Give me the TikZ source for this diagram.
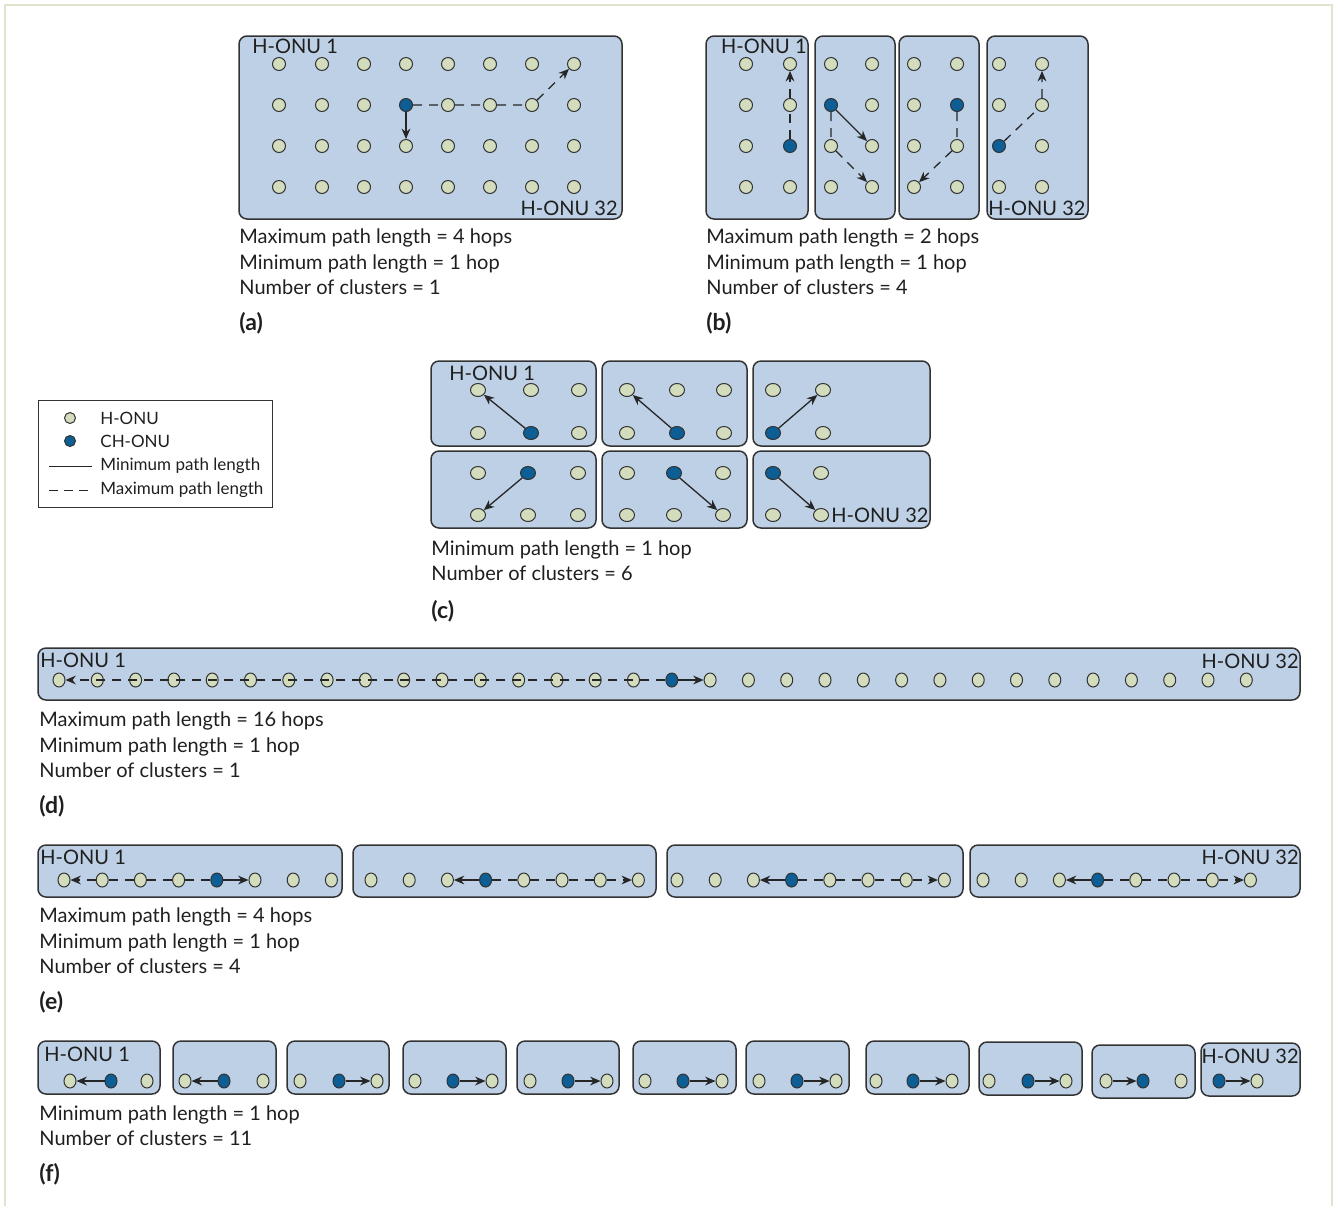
\documentclass[tikz,border=0pt]{standalone}
\usepackage{fontspec}
\setmainfont{Lato}
\usepackage{tikz}
\usetikzlibrary{arrows.meta}
\usetikzlibrary{shapes.geometric}
\definecolor{boxblue}{HTML}{BDD0E5}
\definecolor{onugreen}{HTML}{D3DCBD}
\definecolor{chblue}{HTML}{0C5E95}
\definecolor{rimgrey}{HTML}{333333}
\definecolor{framegreen}{HTML}{DDE5CF}
\tikzset{clus/.style={draw=rimgrey,line width=0.75pt,fill=boxblue,rounded corners=4pt},
         onu/.style={ellipse,draw=rimgrey,line width=0.5pt,fill=onugreen,inner sep=0pt,
                     minimum width=6.5pt,minimum height=6.5pt},
         ch/.style={onu,fill=chblue},
         minpath/.style={-{Stealth[length=5.2pt,width=4.4pt]},line width=0.65pt,draw=black!85},
         maxpath/.style={minpath,dash pattern=on 4.5pt off 3.5pt},
         lbl/.style={inner sep=0pt,font=\fontsize{10}{12}\selectfont,text=black!88},
         keytxt/.style={lbl,anchor=west,font=\fontsize{8.5}{10}\selectfont},
         captxt/.style={anchor=west,align=left,inner sep=0pt,
                     font=\fontsize{10}{12.8}\selectfont,text=black!88},
         tag/.style={anchor=west,inner sep=0pt,font=\fontsize{11.5}{13}\selectfont\bfseries,text=black!88}}

\begin{document}
\begin{tikzpicture}[x=0.5pt,y=-0.5pt]
\useasboundingbox (0,0) rectangle (1336,1206);
\draw[framegreen,line width=1pt] (5,1206) -- (5,5) -- (1332,5) -- (1332,1206);

% (a) one cluster
\draw[clus] (239,36) rectangle (622,219);
\foreach \xx [count=\i] in {279,322,364,406,448,490,532,574}
  \foreach \yy [count=\j] in {64,105,146,187}{
    \def\fillc{onugreen}\ifnum\i\j=42\relax\def\fillc{chblue}\fi
    \node[onu,fill=\fillc] (a\i\j) at (\xx,\yy) {};}
\draw[minpath] (a42) -- (a43);
\draw[maxpath] (a42) -- (a52) -- (a62) -- (a72) -- (a81);
\node[lbl,anchor=west] (la1) at (252,46) {H-ONU 1};
\node[lbl,anchor=east] (la32) at (618,208) {H-ONU 32};
\node[captxt] (ca) at (239,262) {Maximum path length = 4 hops\\Minimum path length = 1 hop\\Number of clusters = 1};
\node[tag] (ta) at (239,323) {(a)};

% (b) four clusters
\foreach \xl/\xr/\xa/\xb/\cij [count=\k] in {706/808/746/790/23,815/895/831/872/12,
                                            899/979/914/957/22,987/1088/999/1042/13}{
  \draw[clus] (\xl,36) rectangle (\xr,219);
  \foreach \xx [count=\i] in {\xa,\xb}
    \foreach \yy [count=\j] in {64,105,146,187}{
      \def\fillc{onugreen}\ifnum\i\j=\cij\relax\def\fillc{chblue}\fi
      \node[onu,fill=\fillc] (b\k\i\j) at (\xx,\yy) {};}}
\draw[maxpath] (b123) -- (b122) -- (b121);
\draw[minpath] (b212) -- (b223);
\draw[maxpath] (b212) -- (b213) -- (b224);
\draw[maxpath] (b322) -- (b323) -- (b314);
\draw[maxpath] (b413) -- (b422) -- (b421);
\node[lbl,anchor=east] (lb1) at (807,46) {H-ONU 1};
\node[lbl,anchor=west] (lb32) at (988,208) {H-ONU 32};
\node[captxt] (cb) at (706,262) {Maximum path length = 2 hops\\Minimum path length = 1 hop\\Number of clusters = 4};
\node[tag] (tb) at (706,323) {(b)};

% legend
\draw[rimgrey,line width=0.5pt] (38,400) rectangle (272,507);
\node[onu,minimum width=5.5pt,minimum height=5.5pt] (k1) at (70,418) {};
\node[ch,minimum width=5.5pt,minimum height=5.5pt] (k2) at (70,441) {};
\coordinate (k3a) at (49,466); \coordinate (k3b) at (92,466);
\coordinate (k4a) at (49,490); \coordinate (k4b) at (92,490);
\draw[black!85,line width=0.5pt] (k3a) -- (k3b);
\draw[black!85,line width=0.5pt,dash pattern=on 4.5pt off 3pt] (k4a) -- (k4b);
\node[keytxt] (kt1) at (100,418) {H-ONU};
\node[keytxt] (kt2) at (100,441) {CH-ONU};
\node[keytxt] (kt3) at (100,466) {Minimum path length};
\node[keytxt] (kt4) at (100,490) {Maximum path length};

% (c) six clusters
\begin{scope}[onu/.append style={minimum width=7.5pt,minimum height=6.5pt}]
\foreach \xl/\xr/\yt/\yb/\xs/\ya/\yc/\cij [count=\k] in {
    431/596/361/446/{478,531,579}/390/433/22,
    602/747/361/446/{627,677,724}/390/433/22,
    753/930/361/446/{773,823}/390/433/12,
    431/596/451/528/{478,528,578}/473/515/21,
    602/747/451/528/{627,674,723}/473/515/21,
    753/930/451/528/{773,821}/473/515/11}{
  \draw[clus] (\xl,\yt) rectangle (\xr,\yb);
  \foreach \xx [count=\i] in \xs
    \foreach \yy [count=\j] in {\ya,\yc}{
      \def\fillc{onugreen}\ifnum\i\j=\cij\relax\def\fillc{chblue}\fi
      \node[onu,fill=\fillc] (c\k\i\j) at (\xx,\yy) {};}}
\end{scope}
\draw[minpath] (c122) -- (c111);
\draw[minpath] (c222) -- (c211);
\draw[minpath] (c312) -- (c321);
\draw[minpath] (c421) -- (c412);
\draw[minpath] (c521) -- (c532);
\draw[minpath] (c611) -- (c622);
\node[lbl,anchor=west] (lc1) at (449,373) {H-ONU 1};
\node[lbl,anchor=west] (lc32) at ([xshift=1pt]c622.east) {H-ONU 32};
\node[captxt] (cc) at (431,560.5) {Minimum path length = 1 hop\\Number of clusters = 6};
\node[tag] (tc) at (431,611) {(c)};

\begin{scope}[onu/.append style={minimum width=6pt,minimum height=7pt}]
% (d) one long cluster
\draw[clus] (38,648) rectangle (1300,700);
\foreach \i in {1,...,32}{
  \def\fillc{onugreen}\ifnum\i=17\relax\def\fillc{chblue}\fi
  \node[onu,fill=\fillc] (d\i) at ({59+38.3*(\i-1)},680) {};}
\draw[minpath] (d17) -- (d18);
\draw[maxpath] (d17) \foreach \i in {16,...,1}{ -- (d\i)};
\node[lbl,anchor=west] (ld1) at (40,660) {H-ONU 1};
\node[lbl,anchor=east] (ld32) at (1299,661) {H-ONU 32};
\node[captxt] (cd) at (39,745) {Maximum path length = 16 hops\\Minimum path length = 1 hop\\Number of clusters = 1};
\node[tag] (td) at (39,806) {(d)};

% (e) four clusters
\foreach \xl/\xr/\xs/\cc [count=\k] in {38/342/64/5,353/656/371/4,667/963/677/4,970/1300/983/4}{
  \draw[clus] (\xl,845) rectangle (\xr,897);
  \foreach \i in {1,...,8}{
    \def\fillc{onugreen}\ifnum\i=\cc\relax\def\fillc{chblue}\fi
    \node[onu,fill=\fillc] (e\k\i) at ({\xs+38.2*(\i-1)},880) {};}}
\draw[minpath] (e15) -- (e16);
\draw[maxpath] (e15) -- (e14) -- (e13) -- (e12) -- (e11);
\foreach \k in {2,3,4}{
  \draw[minpath] (e\k4) -- (e\k3);
  \draw[maxpath] (e\k4) -- (e\k5) -- (e\k6) -- (e\k7) -- (e\k8);}
\node[lbl,anchor=west] (le1) at (40,857) {H-ONU 1};
\node[lbl,anchor=east] (le32) at (1299,857) {H-ONU 32};
\node[captxt] (ce) at (39,941) {Maximum path length = 4 hops\\Minimum path length = 1 hop\\Number of clusters = 4};
\node[tag] (te) at (39,1002) {(e)};

% (f) eleven clusters
\foreach \xl/\xr/\yt/\xs/\cc/\fr/\tn [count=\k] in {
    38/160/1041/{70,111,147}/2/2/1, 173/276/1041/{185,224,263}/2/2/1,
    287/389/1041/{300,339,377}/2/2/3, 403/506/1041/{415,453,492}/2/2/3,
    517/619/1041/{530,568,607}/2/2/3, 633/736/1041/{645,683,722}/2/2/3,
    746/849/1041/{759,797,836}/2/2/3, 866/969/1041/{876,913,952}/2/2/3,
    979/1082/1042/{989,1028,1066}/2/2/3, 1092/1195/1045/{1106,1143,1181}/2/1/2,
    1201/1300/1043/{1219,1257}/1/1/2}{
  \draw[clus] (\xl,\yt) rectangle (\xr,\yt+53);
  \foreach \xx [count=\i] in \xs{
    \def\fillc{onugreen}\ifnum\i=\cc\relax\def\fillc{chblue}\fi
    \node[onu,fill=\fillc] (f\k-\i) at (\xx,1081) {};}
  \draw[minpath] (f\k-\fr) -- (f\k-\tn);}
\end{scope}
\node[lbl,anchor=west] (lf1) at (44,1054) {H-ONU 1};
\node[lbl,anchor=east] (lf32) at (1299,1056) {H-ONU 32};
\node[captxt] (cf) at (39,1125.5) {Minimum path length = 1 hop\\Number of clusters = 11};
\node[tag] (tf) at (39,1174) {(f)};
\end{tikzpicture}
\end{document}
